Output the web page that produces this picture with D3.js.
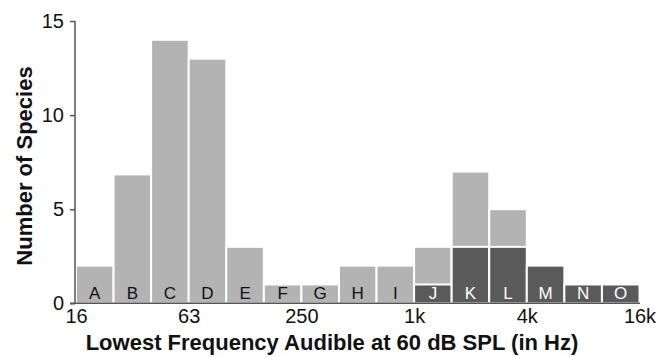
<!DOCTYPE html>
<html>
<head>
<meta charset="utf-8">
<script src="https://cdn.jsdelivr.net/npm/d3@7"></script>
<style>
  html, body { margin: 0; padding: 0; background: #fff; }
  svg { display: block; font-family: "Liberation Sans", Arial, Helvetica, sans-serif; }
</style>
</head>
<body>
<svg id="chart" width="656" height="357"></svg>
<script>
// bin labels and edges (2/3-octave bins, Hz)
const binLabels = ['A', 'B', 'C', 'D', 'E', 'F', 'G', 'H', 'I', 'J', 'K', 'L', 'M', 'N', 'O']
const binEdges = [16, 25.4, 40.3, 64, 101.6, 161.3, 256, 406.4, 645.1, 1024, 1625.5, 2580.3, 4096, 6502, 10321, 16384]

// species counts: dark part (bottom of stack) and total bar height
const darkCounts = [0, 0, 0, 0, 0, 0, 0, 0, 0, 1, 3, 3, 2, 1, 1]
const totalCounts = [2, 6.85, 14, 13, 3, 1, 1, 2, 2, 3, 7, 5, 2, 1, 1]

const xTickValues = [16, 64, 256, 1024, 4096, 16384]
const xTickLabels = ['16', '63', '250', '1k', '4k', '16k']
const yTickValues = [0, 5, 10, 15]

const lightGray = '#b3b3b3'
const darkGray = '#5a5a5a'
const axisColor = '#555'

const svg = d3.select('#chart')

const x = d3.scaleLog().base(2).domain([16, 16384]).range([76, 639.5])
const y = d3.scaleLinear().domain([0, 15]).range([303.3, 21])

const bins = binLabels.map((label, i) => ({
  label,
  lo: binEdges[i],
  hi: binEdges[i + 1],
  dark: darkCounts[i],
  total: totalCounts[i],
}))

const barG = svg.append('g').attr('class', 'bars')

// light (total) bars
barG.selectAll('rect.light')
  .data(bins)
  .join('rect')
  .attr('class', 'light')
  .attr('x', d => x(d.lo))
  .attr('width', d => x(d.hi) - x(d.lo))
  .attr('y', d => y(d.total))
  .attr('height', d => y(0) - y(d.total))
  .attr('fill', lightGray)
  .attr('stroke', '#fff')
  .attr('stroke-width', 2)

// dark (bottom) segments
barG.selectAll('rect.dark')
  .data(bins.filter(d => d.dark > 0))
  .join('rect')
  .attr('class', 'dark')
  .attr('x', d => x(d.lo))
  .attr('width', d => x(d.hi) - x(d.lo))
  .attr('y', d => y(d.dark))
  .attr('height', d => y(0) - y(d.dark))
  .attr('fill', darkGray)
  .attr('stroke', '#fff')
  .attr('stroke-width', 2)

// bin letters
barG.selectAll('text.bin')
  .data(bins)
  .join('text')
  .attr('class', 'bin')
  .attr('x', d => Math.sqrt(d.lo * d.hi) ? x(Math.sqrt(d.lo * d.hi)) : 0)
  .attr('y', 298.5)
  .attr('text-anchor', 'middle')
  .attr('font-size', '17px')
  .attr('fill', d => d.dark > 0 ? '#fff' : '#111')
  .text(d => d.label)

// y axis
const yAxis = d3.axisLeft(y)
  .tickValues(yTickValues)
  .tickSize(5)
  .tickPadding(6)
  .tickFormat(d3.format('d'))

const yG = svg.append('g')
  .attr('transform', 'translate(75,0)')
  .call(yAxis)
yG.select('.domain').attr('stroke', axisColor).attr('stroke-width', 1.5).attr('d', `M0,${y(15)}V${y(0)}`)
yG.selectAll('.tick line').attr('stroke', axisColor).attr('stroke-width', 1.5)
yG.selectAll('.tick text')
  .attr('font-size', '20px')
  .attr('font-family', '"Liberation Sans", Arial, sans-serif')
  .attr('fill', '#111')

// x axis (no tick marks)
const xAxis = d3.axisBottom(x)
  .tickValues(xTickValues)
  .tickSize(0)
  .tickPadding(6)
  .tickFormat((d, i) => xTickLabels[i])

const xG = svg.append('g')
  .attr('transform', `translate(0,${y(0)})`)
  .call(xAxis)
xG.select('.domain').attr('stroke', axisColor).attr('stroke-width', 1.5).attr('d', 'M70,0H640')
xG.selectAll('.tick text')
  .attr('font-size', '20px')
  .attr('font-family', '"Liberation Sans", Arial, sans-serif')
  .attr('fill', '#111')

// axis titles
svg.append('text')
  .attr('x', 332)
  .attr('y', 350)
  .attr('text-anchor', 'middle')
  .attr('font-size', '22px')
  .attr('font-weight', 'bold')
  .attr('fill', '#111')
  .text('Lowest Frequency Audible at 60 dB SPL (in Hz)')

svg.append('text')
  .attr('transform', 'translate(32,166) rotate(-90)')
  .attr('text-anchor', 'middle')
  .attr('font-size', '22px')
  .attr('font-weight', 'bold')
  .attr('fill', '#111')
  .text('Number of Species')
</script>
</body>
</html>
